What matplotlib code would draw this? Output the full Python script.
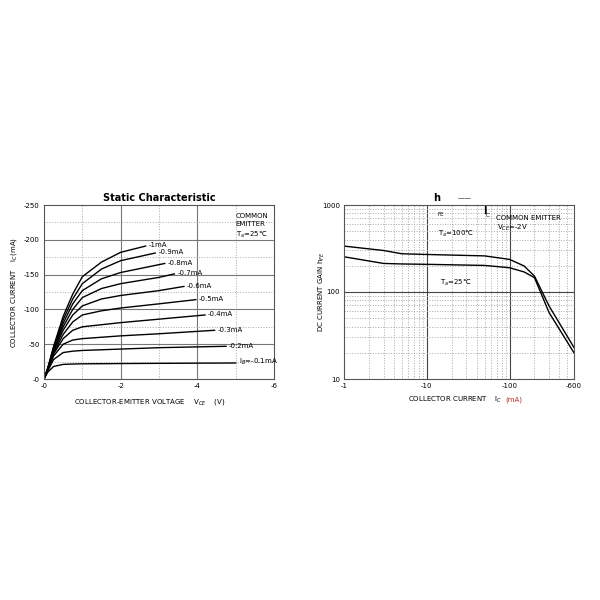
import matplotlib
matplotlib.use("Agg")
import matplotlib.pyplot as plt
import numpy as np

# Left chart data: base current curves (V_CE magnitude, I_C magnitude)
ib_labels = ["I$_B$=-0.1mA", "-0.2mA", "-0.3mA", "-0.4mA", "-0.5mA", "-0.6mA", "-0.7mA", "-0.8mA", "-0.9mA", "-1mA"]
xs_base = [0, 0.1, 0.25, 0.5, 0.75, 1.0, 1.5, 2.0, 3.0]
curves_x = [
    xs_base + [5.0], xs_base + [4.75], xs_base + [4.45], xs_base + [4.2], xs_base + [3.96],
    xs_base + [3.65], xs_base + [3.4], xs_base[:-1] + [3.15],
    [0, 0.1, 0.25, 0.5, 0.75, 1.0, 1.5, 2.0, 2.9],
    [0, 0.1, 0.25, 0.5, 0.75, 1.0, 1.5, 2.0, 2.65],
]
curves_y = [
    [0, 10, 18, 21, 21.5, 21.8, 22, 22.2, 22.5, 23],
    [0, 12, 28, 38, 40, 41, 42, 43, 45, 47],
    [0, 13, 33, 50, 56, 58, 60, 62, 65, 70],
    [0, 14, 36, 58, 70, 75, 78, 81, 86, 92],
    [0, 14, 38, 64, 82, 92, 98, 102, 108, 114],
    [0, 15, 40, 70, 92, 105, 115, 120, 127, 133],
    [0, 15, 42, 75, 100, 117, 130, 137, 146, 151],
    [0, 15, 43, 80, 108, 127, 144, 153, 166],
    [0, 16, 45, 85, 115, 137, 158, 170, 181],
    [0, 16, 47, 90, 122, 147, 168, 182, 191],
]

# Right chart data: hFE vs Ic
ic = [1, 3, 5, 10, 50, 100, 150, 200, 300, 600]
hfe_100 = [337, 300, 275, 270, 260, 237, 199, 152, 69, 23]
hfe_25 = [254, 213, 210, 208, 202, 190, 170, 146, 58, 20]

fig = plt.figure(figsize=(6, 6), dpi=100)
fs = 5
def ft(x, y, s, **kw):
    fig.text(x / 600, 1 - y / 600, s, **kw)

# ---- left
ax = fig.add_axes([44/600, 1-379/600, 230/600, 174/600])
ax.set_xlim(0, 6); ax.set_ylim(0, 250)
for v in [2, 4]:
    ax.axvline(v, color="#777", lw=0.8)
for v in [1, 3, 5]:
    ax.axvline(v, color="#aaa", lw=0.7, ls=":")
for v in [50, 100, 150, 200]:
    ax.axhline(v, color="#777", lw=0.8)
for v in [25, 75, 125, 175, 225]:
    ax.axhline(v, color="#aaa", lw=0.7, ls=":")
for cx, cy, lab in zip(curves_x, curves_y, ib_labels):
    ax.plot(cx, cy, color="black", lw=1.0)
    ax.text(cx[-1] + 0.08, cy[-1] + 1, lab, fontsize=fs, va="center")
ax.set_xticks([0, 2, 4, 6]); ax.set_xticklabels(["-0", "-2", "-4", "-6"])
ax.set_yticks([0, 50, 100, 150, 200, 250]); ax.set_yticklabels(["-0", "-50", "-100", "-150", "-200", "-250"])
ax.tick_params(length=0, labelsize=fs, pad=3)
for s in ax.spines.values():
    s.set_color("#555"); s.set_linewidth(0.8)
ax.text(5.0, 238, "COMMON\nEMITTER\nT$_a$=25\u2103", fontsize=fs, va="top", linespacing=1.4)
ft(159, 198, "Static Characteristic", fontsize=7, fontweight="bold", ha="center", va="center")
ft(150, 402, "COLLECTOR-EMITTER VOLTAGE    V$_{CE}$    (V)", fontsize=fs, ha="center", va="center")
ft(14, 292, "COLLECTOR CURRENT    I$_C$(mA)", fontsize=fs, rotation=90, ha="center", va="center")

# ---- right
ax2 = fig.add_axes([344/600, 1-379/600, 230/600, 174/600])
ax2.set_xscale("log"); ax2.set_yscale("log")
ax2.set_xlim(1, 600); ax2.set_ylim(10, 1000)
for v in [10, 100]:
    ax2.axvline(v, color="#444", lw=0.8)
for d in [1, 10, 100]:
    for m in range(2, 10):
        if d * m < 600:
            ax2.axvline(d * m, color="#aaa", lw=0.7, ls=":")
ax2.axhline(100, color="#444", lw=0.8)
for d in [10, 100]:
    for m in range(2, 10):
        ax2.axhline(d * m, color="#aaa", lw=0.7, ls=":")
ax2.plot(ic, hfe_100, color="black", lw=1.0)
ax2.plot(ic, hfe_25, color="black", lw=1.0)
ax2.set_xticks([1, 10, 100, 600]); ax2.set_xticklabels(["-1", "-10", "-100", "-600"])
ax2.set_yticks([10, 100, 1000]); ax2.set_yticklabels(["10", "100", "1000"])
ax2.minorticks_off()
ax2.tick_params(length=0, labelsize=fs, pad=3)
for s in ax2.spines.values():
    s.set_color("#555"); s.set_linewidth(0.8)
ft(437, 198, "h", fontsize=7, fontweight="bold", ha="center", va="center")
ft(465, 198, "\u2014\u2014", fontsize=5, ha="center", va="center")
ft(441, 214, "FE", fontsize=4, ha="center", va="center")
ft(485, 211, "I", fontsize=7, fontweight="bold", ha="center", va="center")
ft(488, 215, "C", fontsize=4, ha="center", va="center")
ft(496, 218, "COMMON EMITTER", fontsize=fs, va="center")
ft(497, 228, "V$_{CE}$=-2V", fontsize=fs, va="center")
ft(438, 234, "T$_a$=100\u2103", fontsize=fs, va="center")
ft(440, 283, "T$_a$=25\u2103", fontsize=fs, va="center")
ft(455, 400, "COLLECTOR CURRENT    I$_C$", fontsize=fs, ha="center", va="center")
ft(514, 400, "(mA)", fontsize=fs, color="#b03030", ha="center", va="center")
ft(322, 292, "DC CURRENT GAIN h$_{FE}$", fontsize=fs, rotation=90, ha="center", va="center")

fig.savefig("out.png", dpi=100, facecolor="white")
